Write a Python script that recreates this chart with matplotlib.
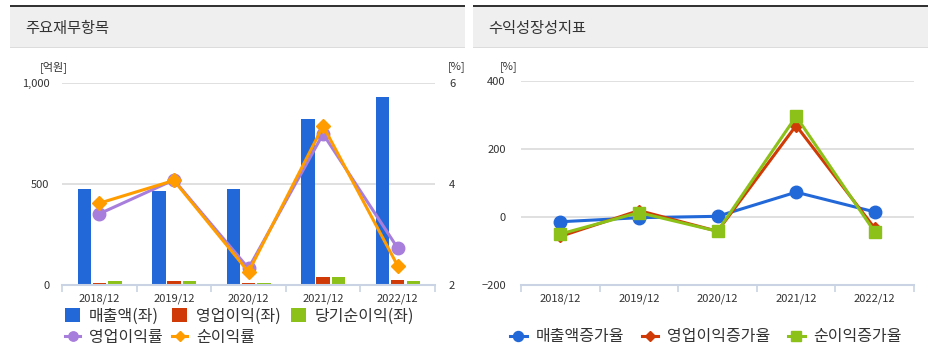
import matplotlib
matplotlib.use("Agg")
import matplotlib.pyplot as plt
from matplotlib.patches import Rectangle
import numpy as np

plt.rcParams['font.family'] = ['Noto Sans CJK KR', 'DejaVu Sans']

years = ["2018/12", "2019/12", "2020/12", "2021/12", "2022/12"]

# 주요재무항목 (억원)
sales = [475, 467, 475, 820, 932]
op_income = [11, 20, 10, 38, 25]
net_income = [21, 20, 8, 38, 18]
# (%)
op_margin = [3.41, 4.08, 2.33, 4.99, 2.73]
net_margin = [3.62, 4.07, 2.26, 5.15, 2.38]

# 수익성장성지표 (%)
sales_growth = [-14, -2, 2, 73, 15]
op_growth = [-57, 19, -42, 269, -33]
net_growth = [-50, 13, -42, 296, -44]

BLUE = "#2268d8"
RED = "#d03a06"
GREEN = "#8cc11a"
PURPLE = "#a87edc"
ORANGE = "#ff9c00"
GRID = "#dddddd"
AXIS = "#c9d3e3"
TXT = "#333333"

W, H = 938, 352
fig = plt.figure(figsize=(W / 100, H / 100), dpi=100)


def px(x, y, w, h):
    # pixel box (top-left origin) -> figure fraction
    return [x / W, 1 - (y + h) / H, w / W, h / H]


# panel headers
for x0, x1, title in [(10, 465, "주요재무항목"), (473, 928, "수익성장성지표")]:
    fig.add_artist(Rectangle((x0 / W, 1 - 47 / H), (x1 - x0) / W, 40 / H,
                             transform=fig.transFigure, color="#efefef", lw=0))
    fig.add_artist(Rectangle((x0 / W, 1 - 7 / H), (x1 - x0) / W, 2.5 / H,
                             transform=fig.transFigure, color="#333333", lw=0))
    fig.add_artist(Rectangle((x0 / W, 1 - 48 / H), (x1 - x0) / W, 1.2 / H,
                             transform=fig.transFigure, color="#dcdcdc", lw=0))
    fig.text((x0 + 15) / W, 1 - 28 / H, title, fontsize=11, color=TXT,
             va="center", ha="left")

x = np.arange(len(years))


def style_axes(ax):
    for s in ["top", "right", "left"]:
        ax.spines[s].set_visible(False)
    ax.spines["bottom"].set_color(AXIS)
    ax.spines["bottom"].set_linewidth(1.5)
    ax.set_xlim(-0.5, len(years) - 0.5)
    ax.set_xticks(x)
    ax.set_xticklabels(years)
    ax.set_xticks(np.arange(-0.5, len(years)), minor=True)
    ax.tick_params(axis="x", which="major", length=0, pad=6, labelsize=8, labelcolor=TXT)
    ax.tick_params(axis="x", which="minor", length=5, color=AXIS, width=1.2)
    ax.tick_params(axis="y", length=0, labelsize=8, labelcolor=TXT, pad=9)
    ax.grid(axis="y", color=GRID, lw=1.3)
    ax.set_axisbelow(True)


# ---- left chart
ax1 = fig.add_axes(px(62, 83, 373, 202))
style_axes(ax1)
bw = 0.18
b1 = ax1.bar(x - 0.2, sales, bw, color=BLUE, label="매출액(좌)")
b2 = ax1.bar(x, op_income, bw, color=RED, label="영업이익(좌)")
b3 = ax1.bar(x + 0.21, net_income, bw, color=GREEN, label="당기순이익(좌)")
ax1.set_ylim(0, 1000)
ax1.set_yticks([0, 500, 1000])
ax1.set_yticklabels(["0", "500", "1,000"])

ax2 = ax1.twinx()
for s in ["top", "right", "left", "bottom"]:
    ax2.spines[s].set_visible(False)
ax2.set_ylim(2, 6)
ax2.set_yticks([2, 4, 6])
ax2.tick_params(axis="y", length=0, labelsize=8, labelcolor=TXT, pad=10)
l1, = ax2.plot(x, op_margin, color=PURPLE, lw=2.2, marker="o", ms=9, label="영업이익률")
l2, = ax2.plot(x, net_margin, color=ORANGE, lw=2.2, marker="D", ms=7, label="순이익률")

fig.text(40 / W, 1 - 67 / H, "[억원]", fontsize=8, color=TXT, va="center", ha="left")
fig.text(448 / W, 1 - 67 / H, "[%]", fontsize=8, color=TXT, va="center", ha="left")

handles = [b1, l1, b2, l2, b3]
fig.legend(handles=handles, labels=[h.get_label() for h in handles],
           ncol=3, loc="center left", bbox_to_anchor=(65 / W, 1 - 327 / H),
           frameon=False, fontsize=11.5, handlelength=0.95, handleheight=0.95,
           handletextpad=0.55, columnspacing=0.6, labelspacing=0.3,
           borderaxespad=0, borderpad=0, labelcolor=TXT, markerscale=0.75)

# ---- right chart
ax3 = fig.add_axes(px(521, 81, 393, 204))
style_axes(ax3)
ax3.set_ylim(-200, 400)
ax3.set_yticks([-200, 0, 200, 400])
ax3.tick_params(axis="y", pad=11)
ax3.plot(x, sales_growth, color=BLUE, lw=2.2, marker="o", ms=9, label="매출액증가율")
ax3.plot(x, op_growth, color=RED, lw=2.2, marker="D", ms=6, label="영업이익증가율")
ax3.plot(x, net_growth, color=GREEN, lw=2.2, marker="s", ms=9, label="순이익증가율")
fig.text(500 / W, 1 - 67 / H, "[%]", fontsize=8, color=TXT, va="center", ha="left")

fig.legend(handles=ax3.get_lines(), labels=[l.get_label() for l in ax3.get_lines()],
           ncol=3, loc="center", bbox_to_anchor=(706 / W, 1 - 337 / H),
           frameon=False, fontsize=11.5, handlelength=1.05,
           handletextpad=0.55, columnspacing=1.1, borderaxespad=0, borderpad=0,
           labelcolor=TXT, markerscale=0.8)

fig.savefig("out.png", dpi=100)
